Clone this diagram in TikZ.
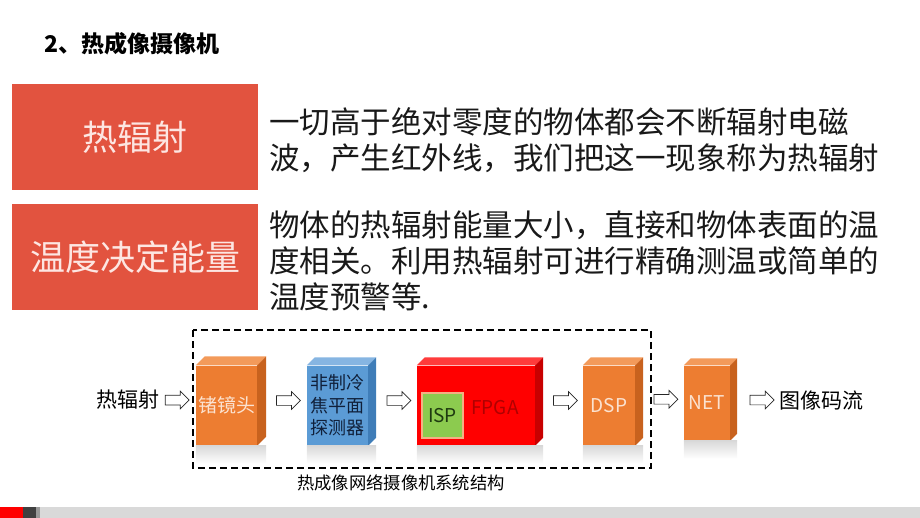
\documentclass[tikz,border=0pt]{standalone}
\usepackage{fontspec}
\setmainfont{Noto Sans CJK SC}
\usepackage{xcolor}
\usepackage{tikz}
\usetikzlibrary{shapes.arrows,calc}

\definecolor{boxred}{HTML}{E2533F}
\definecolor{boxtext}{HTML}{FDE6E2}
\definecolor{lensorange}{HTML}{ED7D31}
\definecolor{lenstop}{HTML}{F39A5A}
\definecolor{lensside}{HTML}{C8621E}
\definecolor{paleorange}{HTML}{FBE2D0}
\definecolor{detblue}{HTML}{5B9BD5}
\definecolor{dettop}{HTML}{86B5E2}
\definecolor{detside}{HTML}{3F7DB8}
\definecolor{navytext}{HTML}{10203A}
\definecolor{fpgared}{HTML}{FF0000}
\definecolor{fpgatop}{HTML}{FF3B3B}
\definecolor{fpgaside}{HTML}{C80000}
\definecolor{fpgatext}{HTML}{B00000}
\definecolor{ispgreen}{HTML}{8CCB4F}
\definecolor{isporange}{HTML}{F4B183}
\definecolor{isptext}{HTML}{1E3A10}

% top face, side face and reflection of a cube whose front is node #1
\newcommand{\cubesides}[4]{%
  \fill[#2] (#1.north west) -- ++(#4,-#4) -- ($(#1.north east)+(#4,-#4)$) -- (#1.north east) -- cycle;
  \fill[#3] (#1.north east) -- ++(#4,-#4) -- ($(#1.south east)+(#4,-#4)$) -- (#1.south east) -- cycle;
  \shade[top color=gray!30,bottom color=white] (#1.south west) rectangle ($(#1.south east)+(#4,18)$);
}

\begin{document}
\begin{tikzpicture}[
			x = 1pt, y = -1pt,
			every node/.style = {inner sep=0pt},
			headbox/.style = {fill=boxred, text=boxtext, minimum width=246pt, minimum height=106pt, font=\fontsize{35}{40}\selectfont},
			para/.style = {anchor=west, align=left, text=black!90, font=\fontsize{30.5}{36}\selectfont},
			cube/.style = {text=paleorange, font=\fontsize{19}{22}\selectfont},
			hollow/.style = {single arrow, draw=black!85, fill=white, line width=0.7pt, inner xsep=0pt, inner ysep=4.5pt, minimum height=24pt, single arrow head extend=4pt}
			]

			\useasboundingbox (0,0) rectangle (920,518);

			\node[anchor=west, font=\bfseries\fontsize{23}{26}\selectfont] (title) at (44,44) {2、热成像摄像机};

			\node[headbox] (hot) at (135,137) {热辐射};
			\node[headbox] (temp) at (135,257) {温度决定能量};
			\node[para] (hotdesc) at (269,140) {一切高于绝对零度的物体都会不断辐射电磁\\波，产生红外线，我们把这一现象称为热辐射};
			\node[para] (tempdesc) at (269,261) {物体的热辐射能量大小，直接和物体表面的温\\度相关。利用热辐射可进行精确测温或简单的\\温度预警等.};

			\draw[line width=2.2pt, dash pattern=on 7pt off 4pt] (193,330) rectangle (651,468);
			\node[font=\fontsize{17.3}{20}\selectfont] (caption) at (401,483) {热成像网络摄像机系统结构};

			\node[font=\fontsize{21}{24}\selectfont] (src) at (128,400) {热辐射};

			\node[cube, fill=lensorange, minimum width=61pt, minimum height=80pt] (lens) at (226.5,405.5) {锗镜头};
			\cubesides{lens}{lenstop}{lensside}{9}
			\node[cube, fill=detblue, minimum width=61pt, minimum height=80pt, align=center, text=navytext, font=\fontsize{18}{22.5}\selectfont] (det) at (337.5,405.5) {非制冷\\焦平面\\探测器};
			\cubesides{det}{dettop}{detside}{8}
			\node[cube, fill=fpgared, minimum width=118pt, minimum height=80pt] (fpga) at (476,405.5) {};
			\cubesides{fpga}{fpgatop}{fpgaside}{8}
			\node[text=fpgatext, font=\fontsize{19}{22}\selectfont] (fpgalabel) at (495,408) {FPGA};
			\node[draw=isporange, line width=1.3pt, fill=ispgreen, minimum width=41pt, minimum height=45pt, text=isptext, font=\fontsize{19}{22}\selectfont] (isp) at (442.5,415.5) {ISP};
			\node[cube, fill=lensorange, minimum width=52pt, minimum height=80pt] (dsp) at (609,405.5) {DSP};
			\cubesides{dsp}{lenstop}{lensside}{8}
			\node[cube, fill=lensorange, minimum width=46pt, minimum height=75pt] (net) at (707,403) {NET};
			\cubesides{net}{lenstop}{lensside}{7}
			\node[anchor=west, font=\fontsize{21}{24}\selectfont] (out) at (779,401) {图像码流};

			% hollow arrows between the blocks
			\node[hollow, xshift=-3pt, yshift=2.7pt] (arr1) at ($(src.east)!0.5!(lens.west)$) {};
			\foreach \a/\b/\n in {lens/det/2, det/fpga/3, fpga/dsp/4, dsp/net/5}
				\node[hollow, xshift=4pt, yshift=5pt] (arr\n) at ($(\a.east)!0.5!(\b.west)$) {};
			\node[hollow, xshift=5pt, yshift=2pt] (arr6) at ($(net.east)!0.5!(out.west)$) {};

			\fill[fpgared] (0,507) rectangle (23,518);
			\fill[black!75] (23,507) rectangle (36,518);
			\fill[black!40] (36,507) rectangle (40,518);
			\fill[black!15] (40,507) rectangle (920,518);

		\end{tikzpicture}
\end{document}
